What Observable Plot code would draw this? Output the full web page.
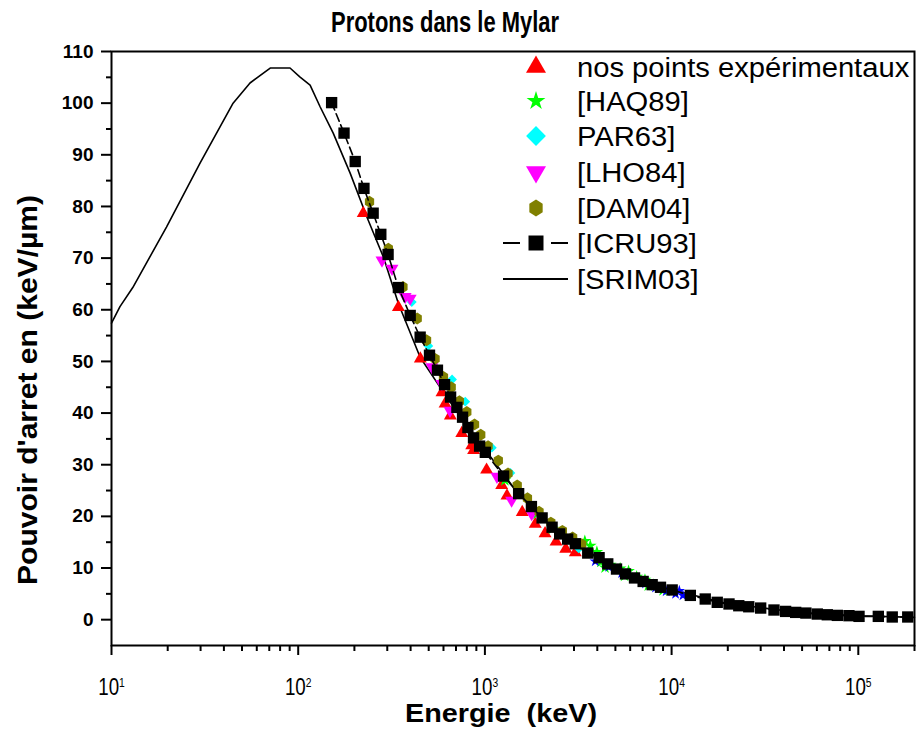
<!DOCTYPE html>
<html>
<head>
<meta charset="utf-8">
<script src="https://cdn.jsdelivr.net/npm/d3@7"></script>
<script src="https://cdn.jsdelivr.net/npm/@observablehq/plot@0.6"></script>
<style>
  html, body { margin: 0; padding: 0; background: white; }
  #chart { width: 916px; height: 730px; }
</style>
</head>
<body>
<div id="chart"></div>
<script>
// ---- Data (energy in keV, stopping power in keV/µm) ----
const title = "Protons dans le Mylar";
const xLabel = "Energie  (keV)";
const yLabel = "Pouvoir d'arret en (keV/µm)";
const xMajorTicks = [10, 100, 1000, 10000, 100000];
const xMinorTicks = [20,30,40,50,60,70,80,90,200,300,400,500,600,700,800,900,2000,3000,4000,5000,6000,7000,8000,9000,20000,30000,40000,50000,60000,70000,80000,90000,200000];
const yMajorTicks = [0,10,20,30,40,50,60,70,80,90,100,110];
const yMinorTicks = [5,15,25,35,45,55,65,75,85,95,105];

const seriesNames = ["nos points expérimentaux","[HAQ89]","PAR63]","[LHO84]","[DAM04]","[ICRU93]","[SRIM03]"];

const expPoints = [[223,78.7],[344,60.5],[451,50.5],[589,44.0],[612,41.8],[653,39.5],[752,36.1],[850,33.7],[870,32.8],[1021,29.0],[1230,26.0],[1313,24.0],[1585,20.8],[1860,18.5],[2100,16.7],[2405,15.1],[2710,13.7],[3050,13.0]];
const haq89 = [[1280,27.0],[1900,20.5],[2300,17.6],[2900,15.6],[3430,15.2],[3670,14.3],[3980,13.1],[4180,11.2],[4400,10.1],[4690,10.6],[5300,9.9],[5600,8.5],[5880,9.4],[6500,8.3],[7200,7.7],[7500,6.6],[8000,6.7],[9000,5.7]];
const par63 = [[406,61.5],[498,53.0],[667,46.5],[785,42.2],[1090,33.3],[1370,28.4],[3180,13.8],[3300,14.3]];
const lho84 = [[281,69.6],[318,68.0],[374,62.5],[398,62.2],[520,48.9],[588,45.7],[650,40.5],[1160,27.7],[1390,23.1],[1780,20.5]];
const dam04 = [[241,80.9],[304,71.8],[364,64.4],[434,58.3],[487,54.1],[541,50.5],[600,47.0],[660,45.0],[730,42.3],[800,40.2],[880,37.8],[950,35.8],[1040,33.6],[1180,30.8],[1330,28.3],[1490,26.0],[1690,23.5],[1950,20.9],[2255,18.8],[2600,17.2],[2950,15.9],[3300,14.6]];
const blueExtra = [[3900,11.3],[4600,10.2],[5400,9.0],[6200,8.0],[7250,7.0],[8200,6.2],[9350,5.5],[10500,5.0],[11000,5.6],[11500,4.7]];
const icru93 = [[151,100.1],[176,94.2],[202,88.7],[225,83.5],[252,78.7],[277,74.6],[303,70.7],[344,64.3],[398,58.9],[450,54.7],[505,51.2],[557,48.3],[608,45.5],[655,43.1],[708,41.1],[759,39.2],[811,37.2],[869,35.2],[937,33.6],[1005,32.4],[1259,27.8],[1516,24.4],[1775,21.9],[2025,19.7],[2290,17.9],[2515,16.6],[2775,15.6],[3050,14.7],[3555,12.9],[4090,12.0],[4550,10.8],[5070,9.8],[5665,8.86],[6330,8.08],[7040,7.4],[7870,6.78],[8720,6.27],[10070,5.75],[12600,4.7],[15140,4.0],[17560,3.36],[20300,3.04],[22900,2.7],[25900,2.5],[30000,2.25],[35350,1.87],[40800,1.6],[46200,1.41],[52400,1.28],[60300,1.09],[68200,0.95],[77200,0.83],[89100,0.77],[100900,0.64],[128000,0.64],[152000,0.52],[184000,0.52]];
const srim03 = [[10,57.4],[11.1,60.6],[13,64.3],[19.7,76.0],[29.8,88.4],[44.8,100.0],[55.2,103.9],[70.8,106.8],[90.4,106.8],[102,105.1],[115.8,103.5],[131,99.3],[154,94.2],[190,86.4],[233,78.0],[286,70.2],[344,61.2],[450,50.8],[600,44.0],[800,37.5],[1000,33.0],[1500,24.5],[2000,19.9],[3000,14.9],[5000,10.0],[10000,5.8],[20000,3.1],[50000,1.35],[100000,0.75],[200000,0.45]];

const toRows = arr => arr.map(([e, s]) => ({e, s}));

// custom symbols
const invTriangle = {
  draw(ctx, size) {
    const a = Math.sqrt(4 * size / Math.sqrt(3));
    const h = a * Math.sqrt(3) / 2;
    ctx.moveTo(0, 2 * h / 3);
    ctx.lineTo(a / 2, -h / 3);
    ctx.lineTo(-a / 2, -h / 3);
    ctx.closePath();
  }
};
const upTriangle = {
  draw(ctx, size) {
    const a = Math.sqrt(4 * size / Math.sqrt(3));
    const h = a * Math.sqrt(3) / 2;
    ctx.moveTo(0, -2 * h / 3);
    ctx.lineTo(a / 2, h / 3);
    ctx.lineTo(-a / 2, h / 3);
    ctx.closePath();
  }
};
const hexPointy = {
  draw(ctx, size) {
    const r = Math.sqrt(size / (1.5 * Math.sqrt(3)));
    for (let i = 0; i < 6; i++) {
      const ang = Math.PI / 2 + i * Math.PI / 3;
      const x = r * Math.cos(ang) * 0.9, y = r * Math.sin(ang);
      if (i === 0) ctx.moveTo(x, y); else ctx.lineTo(x, y);
    }
    ctx.closePath();
  }
};

const FONT = "'Liberation Sans', Arial, Helvetica, sans-serif";

const chart = Plot.plot({
  width: 916,
  height: 730,
  marginLeft: 111,
  marginRight: 2,
  marginTop: 51,
  marginBottom: 85,
  style: {fontFamily: FONT, color: "black", background: "white", overflow: "visible"},
  x: {type: "log", domain: [10, 200000]},
  y: {domain: [-5, 110]},
  marks: [
    Plot.line(toRows(srim03), {x: "e", y: "s", stroke: "black", strokeWidth: 1.6, curve: "linear"}),
    Plot.dot(toRows(expPoints), {x: "e", y: "s", symbol: upTriangle, r: 4.8, fill: "#ff0000", stroke: "none"}),
    Plot.dot(toRows(haq89), {x: "e", y: "s", symbol: "star", r: 4, fill: "#00ff00", stroke: "none"}),
    Plot.dot(toRows(par63), {x: "e", y: "s", symbol: "diamond2", r: 4.4, fill: "#00ffff", stroke: "none"}),
    Plot.dot(toRows(lho84), {x: "e", y: "s", symbol: invTriangle, r: 4.8, fill: "#ff00ff", stroke: "none"}),
    Plot.dot(toRows(dam04), {x: "e", y: "s", symbol: hexPointy, r: 5.4, fill: "#808000", stroke: "none"}),
    Plot.dot(toRows(blueExtra), {x: "e", y: "s", symbol: "star", r: 3.6, fill: "#0000ff", stroke: "none"}),
    Plot.line(toRows(icru93), {x: "e", y: "s", stroke: "black", strokeWidth: 1.6, strokeDasharray: "8,4"}),
    Plot.dot(toRows(icru93), {x: "e", y: "s", symbol: "square", r: 6.4, fill: "black", stroke: "none"}),
    Plot.axisX({ticks: xMinorTicks, tickSize: 6, strokeWidth: 2, tickFormat: () => "", label: null}),
    Plot.axisX({ticks: xMajorTicks, tickSize: 10, strokeWidth: 2, tickPadding: 22,
      tickFormat: d => "10^" + Math.round(Math.log10(d)), fontSize: 24, label: null}),
    Plot.axisY({ticks: yMinorTicks, tickSize: 5, strokeWidth: 2, tickFormat: () => "", label: null}),
    Plot.axisY({ticks: yMajorTicks, tickSize: 10, strokeWidth: 2, tickPadding: 8,
      fontSize: 19, fontWeight: "bold", label: null}),
    Plot.frame({stroke: "black", strokeWidth: 2})
  ]
});

document.getElementById("chart").appendChild(chart);

const svg = d3.select(chart);

// superscript exponents on x tick labels, narrowed like the reference font
svg.selectAll('g[aria-label="x-axis tick label"] text').each(function() {
  const t = d3.select(this);
  const txt = t.text();
  const m = txt.match(/^10\^(\d+)$/);
  if (m) {
    t.text(null);
    t.append("tspan").text("10");
    t.append("tspan").attr("dy", "-0.55em").attr("font-size", "0.55em").text(m[1]);
    const tr = t.attr("transform") || "";
    t.attr("transform", tr + " scale(0.78,1)");
  }
});

// title
svg.append("text")
  .attr("x", 445).attr("y", 32)
  .attr("text-anchor", "middle")
  .attr("font-family", FONT)
  .attr("font-weight", "bold")
  .attr("font-size", 29)
  .attr("fill", "black")
  .attr("textLength", 228)
  .attr("lengthAdjust", "spacingAndGlyphs")
  .text(title);

// x label
svg.append("text")
  .attr("x", 501).attr("y", 722)
  .attr("text-anchor", "middle")
  .attr("font-family", FONT)
  .attr("font-weight", "bold")
  .attr("font-size", 26)
  .attr("fill", "black")
  .attr("textLength", 192)
  .attr("lengthAdjust", "spacingAndGlyphs")
  .style("white-space", "pre")
  .text(xLabel);

// y label
svg.append("text")
  .attr("transform", "translate(37,390) rotate(-90)")
  .attr("text-anchor", "middle")
  .attr("font-family", FONT)
  .attr("font-weight", "bold")
  .attr("font-size", 28)
  .attr("fill", "black")
  .attr("textLength", 390)
  .attr("lengthAdjust", "spacingAndGlyphs")
  .text(yLabel);

// legend
const legend = svg.append("g").attr("font-family", FONT).attr("font-size", 27).attr("fill", "black");
const rowY = [67, 101, 136, 172, 208, 243, 279];
const symX = 536, textX = 577;
const legSyms = [
  {type: upTriangle, size: 173, fill: "#ff0000"},
  {type: d3.symbolStar, size: 110, fill: "#00ff00"},
  {type: d3.symbolDiamond2, size: 250, fill: "#00ffff"},
  {type: invTriangle, size: 173, fill: "#ff00ff"},
  {type: hexPointy, size: 190, fill: "#808000"},
  {type: d3.symbolSquare, size: 225, fill: "black", line: true},
  {type: null, line: true}
];
seriesNames.forEach((name, i) => {
  const y = rowY[i];
  const s = legSyms[i];
  if (s.line) {
    legend.append("line").attr("x1", 503).attr("x2", 568).attr("y1", y).attr("y2", y)
      .attr("stroke", "black").attr("stroke-width", 1.8)
      .attr("stroke-dasharray", s.type ? "17,31,17" : null);
  }
  if (s.type) {
    legend.append("path")
      .attr("transform", `translate(${symX},${y})`)
      .attr("d", d3.symbol().type(s.type).size(s.size)())
      .attr("fill", s.fill);
  }
  legend.append("text")
    .attr("transform", `translate(${textX},${y}) scale(1.08,1)`)
    .attr("text-anchor", "start")
    .attr("dy", "0.36em")
    .text(name);
});
</script>
</body>
</html>
